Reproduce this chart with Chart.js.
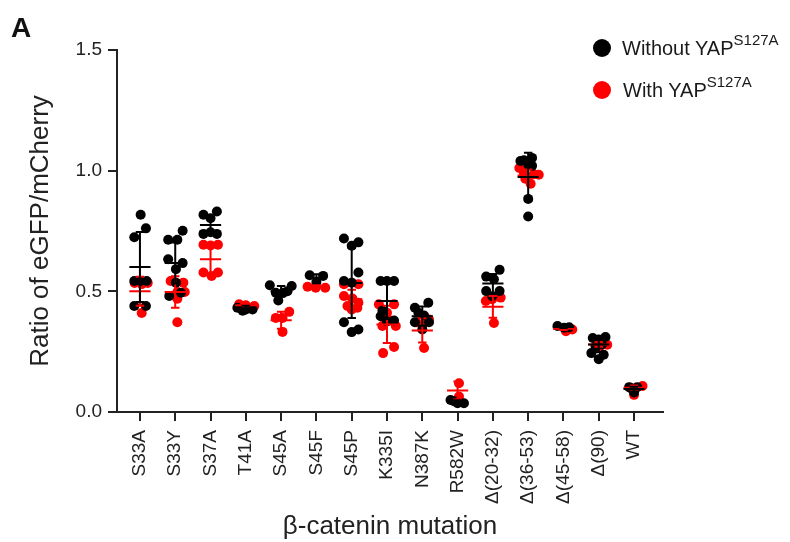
<!DOCTYPE html>
<html>
<head>
<meta charset="utf-8">
<script src="https://cdn.jsdelivr.net/npm/chart.js@4"></script>
<style>
body{margin:0;background:#fff;font-family:"Liberation Sans",Arial,sans-serif;}
#wrap{position:relative;width:790px;height:542px;}
#c{position:absolute;left:0;top:0;}
.txt{position:absolute;color:#1a1a1a;white-space:nowrap;font-size:20px;line-height:20px;}
.txt sup{font-size:15px;line-height:0;vertical-align:10px;}
.dot{position:absolute;width:18px;height:18px;border-radius:50%;}
#panel{position:absolute;left:11px;top:14px;font-size:28px;line-height:28px;font-weight:bold;color:#111;}
</style>
</head>
<body>
<div id="wrap">
  <canvas id="c" width="790" height="542"></canvas>
  <div id="panel">A</div>
  <div class="dot" style="left:593px;top:39px;background:#000"></div>
  <div class="txt" style="left:622px;top:38px">Without YAP<sup>S127A</sup></div>
  <div class="dot" style="left:593px;top:81px;background:#ff0000"></div>
  <div class="txt" style="left:623px;top:80px">With YAP<sup>S127A</sup></div>
</div>
<script>
const categories = ['S33A','S33Y','S37A','T41A','S45A','S45F','S45P','K335I','N387K','R582W','Δ(20-32)','Δ(36-53)','Δ(45-58)','Δ(90)','WT'];
const yTicks = [0, 0.5, 1.0, 1.5];

// individual measurements, without YAP S127A (black)
const withoutVals = [
  [0.817,0.761,0.724,0.543,0.543,0.543,0.439,0.439],
  [0.751,0.714,0.714,0.633,0.617,0.592,0.536,0.481,0.494],
  [0.817,0.831,0.803,0.738,0.738,0.745],
  [0.432,0.425,0.425,0.42],
  [0.525,0.522,0.494,0.494,0.5,0.462],
  [0.567,0.564,0.539],
  [0.719,0.689,0.703,0.578,0.543,0.536,0.372,0.331,0.342],
  [0.543,0.543,0.543,0.42,0.397,0.379,0.375],
  [0.432,0.453,0.411,0.40,0.372,0.372,0.342],
  [0.05,0.036,0.036,0.045],
  [0.589,0.561,0.55,0.501,0.501,0.48],
  [1.043,1.053,1.025,1.02,0.883,0.81,1.04],
  [0.356,0.349,0.351],
  [0.307,0.311,0.30,0.244,0.237,0.219,0.27,0.28],
  [0.103,0.103,0.081,0.095]
];
const withoutJitter = [
  [0.02,0.17,-0.16,-0.16,0.02,0.19,-0.16,0.17],
  [0.21,-0.2,0.06,-0.2,0.21,0.02,0.02,-0.17,0.16],
  [-0.2,0.18,0,-0.2,0.18,0],
  [-0.24,0,0.19,-0.09],
  [-0.32,0.3,-0.15,0.06,0.18,-0.08],
  [-0.19,0.19,0],
  [-0.22,0,0.19,0.19,-0.22,0,-0.22,0,0.19],
  [-0.18,0.2,0,-0.13,-0.18,0.2,0],
  [-0.21,0.17,-0.11,0.05,-0.21,0.19,0],
  [-0.2,0,0.18,-0.1],
  [0.19,-0.19,0.03,-0.19,0.19,-0.02],
  [-0.12,0.11,0,0.11,0,0,-0.22],
  [-0.17,0.02,0.16],
  [-0.17,0.19,0,-0.21,0.14,0,-0.09,0.09],
  [-0.14,0.09,0,-0.05]
];
const withoutMean = [0.601,0.617,0.775,0.43,0.5,0.556,0.535,0.46,0.397,0.042,0.532,0.974,0.352,0.28,0.095];
const withoutSD   = [0.145,0.085,0.035,0.01,0.022,0.015,0.145,0.075,0.04,0.007,0.04,0.1,0.004,0.032,0.01];

// individual measurements, with YAP S127A (red)
const withVals = [
  [0.535,0.535,0.53,0.41],
  [0.543,0.536,0.497,0.497,0.469,0.372],
  [0.693,0.693,0.69,0.578,0.578,0.564],
  [0.446,0.439,0.442],
  [0.415,0.39,0.39,0.332],
  [0.519,0.515,0.515],
  [0.529,0.529,0.481,0.453,0.439,0.425,0.432,0.47],
  [0.446,0.446,0.411,0.356,0.356,0.269,0.244,0.38],
  [0.383,0.372,0.36,0.265],
  [0.119,0.064],
  [0.474,0.46,0.467,0.369],
  [1.011,0.983,0.967,0.946,0.99,0.985,0.975],
  [0.335,0.342],
  [0.279,0.265],
  [0.108,0.1,0.071]
];
const withJitter = [
  [-0.15,0.22,0.05,0.05],
  [-0.13,0.23,0.06,0.27,0.06,0.06],
  [-0.2,0.21,0,-0.2,0.21,0.03],
  [-0.19,0.24,0],
  [0.23,-0.15,0.04,0.04],
  [-0.25,-0.02,0.25],
  [-0.22,0.19,-0.22,0.19,-0.12,0,0.16,0.02],
  [-0.23,0.2,0,-0.13,0.25,0.2,-0.11,0.06],
  [0.19,-0.17,0,0.05],
  [0.04,0.04],
  [0.22,-0.2,-0.02,0.03],
  [-0.25,0.3,-0.08,0.07,-0.12,0.16,-0.03],
  [0.07,0.25],
  [0.24,0],
  [0.24,-0.1,0]
];
const withMean = [0.5,0.497,0.633,0.442,0.38,0.52,0.467,0.363,0.338,0.089,0.436,0.98,0.345,0.28,0.1];
const withSD   = [0.06,0.065,0.06,0.005,0.035,0.005,0.04,0.077,0.05,0.037,0.045,0.025,0.005,0.01,0.01];

const BLACK = '#000000', RED = '#ff0000', INK = '#222';

function points(vals, jit){
  const out = [];
  vals.forEach((list, i) => list.forEach((v, k) => out.push({x: i + jit[i][k], y: v})));
  return out;
}

// mean line + SD whisker with caps, segments split by null gaps
function errorBars(means, sds){
  const pts = [];
  const seg = (x1, y1, x2, y2, i) => { pts.push({x:x1,y:y1},{x:x2,y:y2},{x:i,y:null}); };
  means.forEach((m, i) => {
    const s = sds[i];
    seg(i-0.3, m, i+0.3, m, i);
    seg(i, m-s, i, m+s, i);
    seg(i-0.12, m+s, i+0.12, m+s, i);
    seg(i-0.12, m-s, i+0.12, m-s, i);
  });
  return pts;
}

const barStyle = c => ({showLine:true, spanGaps:false, pointRadius:0, borderColor:c, borderWidth:2, fill:false});

new Chart(document.getElementById('c'), {
  type: 'scatter',
  data: {
    datasets: [
      Object.assign({label:'sd0', data: errorBars(withoutMean, withoutSD), order:0}, barStyle(BLACK)),
      Object.assign({label:'sd1', data: errorBars(withMean, withSD), order:1}, barStyle(RED)),
      {label:'Without YAP', data: points(withoutVals, withoutJitter), order:2,
        pointRadius:5, backgroundColor:BLACK, borderWidth:0},
      {label:'With YAP', data: points(withVals, withJitter), order:3,
        pointRadius:5, backgroundColor:RED, borderWidth:0}
    ]
  },
  options: {
    responsive: false,
    animation: false,
    events: [],
    layout: { padding: {top:50, right:127, bottom:0, left:0} },
    plugins: { legend: {display:false}, tooltip: {enabled:false} },
    scales: {
      x: {
        type: 'linear', min: -0.65, max: 14.82,
        afterBuildTicks: s => { s.ticks = categories.map((_, i) => ({value: i})); },
        afterFit: s => { s.height = 130; },
        ticks: {
          autoSkip: false, minRotation: 90, maxRotation: 90, padding: 9,
          color: INK, font: {family:'"Liberation Sans", Arial', size:19},
          callback: v => categories[v]
        },
        grid: {drawOnChartArea:false, drawTicks:true, tickLength:9, color:INK, lineWidth:2},
        border: {display:true, color:INK, width:2},
        title: {display:true, text:'β-catenin mutation', color:INK,
          font: {family:'"Liberation Sans", Arial', size:26, lineHeight:1}, padding:{top:0,bottom:2}}
      },
      y: {
        min: 0, max: 1.5,
        afterBuildTicks: s => { s.ticks = yTicks.map(v => ({value: v})); },
        afterFit: s => { s.width = 117; },
        ticks: {
          padding: 6, color: INK, font: {family:'"Liberation Sans", Arial', size:19},
          callback: v => v.toFixed(1)
        },
        grid: {drawOnChartArea:false, drawTicks:true, tickLength:9, color:INK, lineWidth:2},
        border: {display:true, color:INK, width:2},
        title: {display:true, text:'Ratio of eGFP/mCherry', color:INK,
          font: {family:'"Liberation Sans", Arial', size:26, lineHeight:1}, padding:{top:28,bottom:0}}
      }
    }
  }
});
</script>
</body>
</html>
